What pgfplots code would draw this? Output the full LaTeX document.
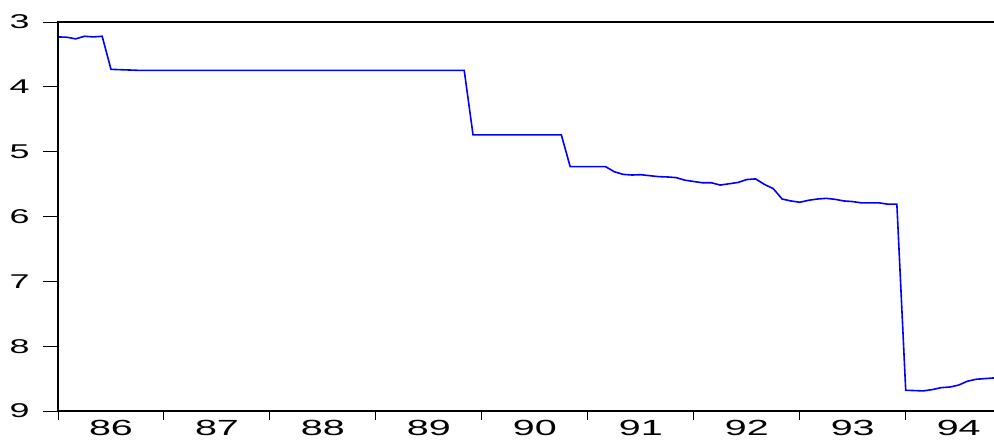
\documentclass[border=0pt]{standalone}
\usepackage{fontspec}
\setmainfont{Liberation Sans}[FakeStretch=1.8]
\usepackage{pgfplots}
\usepackage{pgfplotstable}
\pgfplotsset{compat=1.18}
\pgfplotstableread{
t v
0 3.23
1 3.235
2 3.26
3 3.22
4 3.23
5 3.22
6 3.73
7 3.735
8 3.74
9 3.745
20 3.745
30 3.745
46 3.745
47 4.74
52 4.74
57 4.74
58 5.23
60 5.23
62 5.23
63 5.31
64 5.35
65 5.36
66 5.355
67 5.37
68 5.385
69 5.39
70 5.40
71 5.44
72 5.46
73 5.48
74 5.48
75 5.515
76 5.495
77 5.475
78 5.43
79 5.42
80 5.505
81 5.57
82 5.73
83 5.76
84 5.78
85 5.75
86 5.73
87 5.72
88 5.735
89 5.76
90 5.77
91 5.79
92 5.79
93 5.79
94 5.81
95 5.81
96 8.68
97 8.685
98 8.69
99 8.67
100 8.64
101 8.63
102 8.60
103 8.54
104 8.51
105 8.50
106 8.49
}\series
\begin{document}
\begin{tikzpicture}
\useasboundingbox (0,0) rectangle (994bp,445bp);
\begin{axis}[
  at={(58bp,34bp)}, anchor=south west,
  scale only axis, width=936bp, height=389bp,
  xmin=1986, xmax=1994.8333, ymin=3, ymax=9,
  y dir=reverse,
  axis line style={draw=none},
  tick align=outside,
  tick style={black, line width=1bp},
  xtick={1986,...,1994}, xticklabels={},
  minor x tick num=3,
  xtick pos=bottom, ytick pos=left,
  major tick length=9bp, minor tick length=6bp,
  extra x ticks={1986.5,1987.5,1988.5,1989.5,1990.5,1991.5,1992.5,1993.5,1994.5},
  extra x tick labels={86,87,88,89,90,91,92,93,94},
  extra x tick style={major tick length=0pt, tick label style={font=\fontsize{22}{22}\selectfont, yshift=-6bp}},
  ytick=\empty,
  extra y ticks={3,4,5,6,7,8,9},
  extra y tick labels={3,4,5,6,7,8,9},
  extra y tick style={major tick length=15bp, tick label style={font=\fontsize{20}{20}\selectfont, xshift=-10bp}},
  /pgf/number format/assume math mode=true,
  clip=false,
]
\addplot[color={rgb,255:red,0;green,0;blue,255}, line width=1.6bp, mark=none]
  table[x expr=1986+\thisrow{t}/12, y=v] {\series};
\draw[black, line width=2.5bp] (axis cs:1994.8333,3) -- (axis cs:1986,3) -- (axis cs:1986,9) -- (axis cs:1994.8333,9);
\end{axis}
\end{tikzpicture}
\end{document}
